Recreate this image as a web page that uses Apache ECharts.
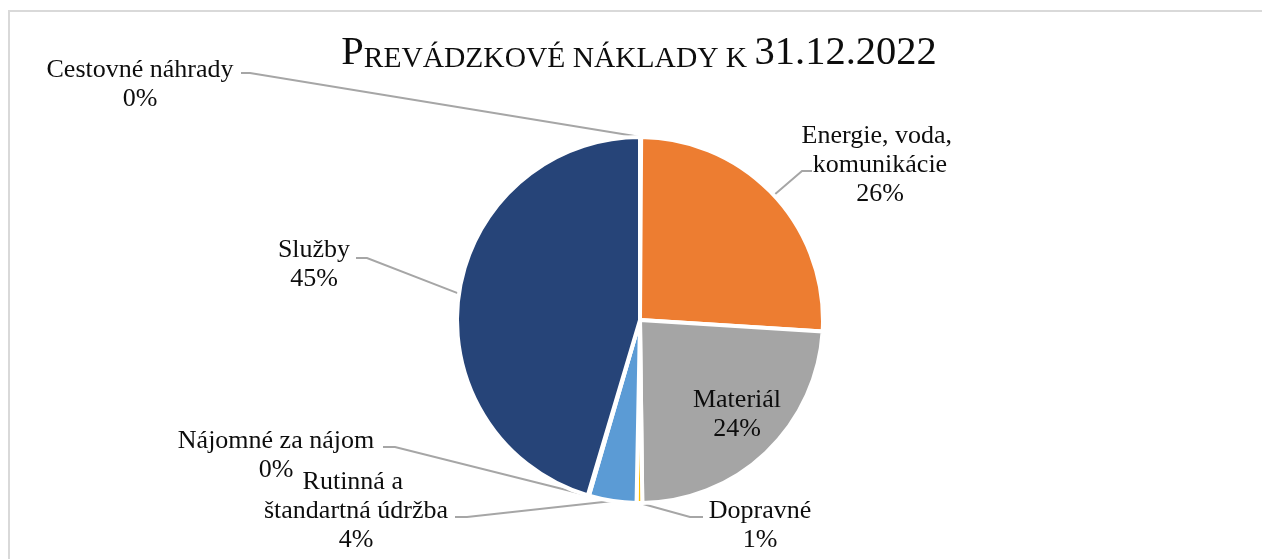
<!DOCTYPE html>
<html><head><meta charset="utf-8">
<script src="https://cdn.jsdelivr.net/npm/echarts@6/dist/echarts.min.js"></script>
<style>
html,body{margin:0;padding:0;background:#fff;overflow:hidden}
#frame{position:absolute;left:8px;top:10px;width:1400px;height:700px;border:2px solid #D9D9D9;box-sizing:border-box}
#chart{position:absolute;left:0;top:0;width:1262px;height:559px}
</style></head><body>
<div id="frame"></div><div id="chart"></div>
<script>
// ---- data ----
const categories = ['Cestovné náhrady', 'Energie, voda, komunikácie', 'Materiál', 'Dopravné', 'Rutinná a štandartná údržba', 'Nájomné za nájom', 'Služby'];
const values = [0.1, 25.9, 23.8, 0.5, 4.2, 0.1, 45.4];
const titleParts = ['P', 'REVÁDZKOVÉ NÁKLADY K ', '31.12.2022'];

// ---- styles / layout ----
const colors = ['#4472C4', '#ED7D31', '#A5A5A5', '#FFC000', '#5B9BD5', '#70AD47', '#264478'];
const FONT = "'Liberation Serif', 'Times New Roman', serif";
const TXT = '#0d0d0d';
// label centre, label width, leader line elbow & end (layout only)
const labelBoxes = [
  { c: [140, 85], w: 260, pts: [[250, 73], [241, 73]] },
  { c: [880, 165], w: 160, pts: [[802, 171], [812, 171]] },
  { c: [737, 415], w: 140, pts: null, inside: true },
  { c: [760, 526], w: 140, pts: [[690, 517], [703, 517]] },
  { c: [356, 511], w: 250, pts: [[467, 517], [455, 517]] },
  { c: [276, 456], w: 260, pts: [[395, 447], [383, 447]] },
  { c: [314, 265], w: 140, pts: [[367, 258], [356, 258]] }
];

const data = categories.map((name, i) => ({
  name: name,
  value: values[i],
  itemStyle: { color: colors[i] },
  label: Object.assign({ width: labelBoxes[i].w, overflow: 'break' },
    labelBoxes[i].inside ? { position: 'inside' } : {}),
  labelLine: { show: !labelBoxes[i].inside }
}));

const chart = echarts.init(document.getElementById('chart'), null, { renderer: 'canvas' });
chart.setOption({
  animation: false,
  title: {
    text: '{b|' + titleParts[0] + '}{s|' + titleParts[1] + '}{b|' + titleParts[2] + '}',
    left: 639, textAlign: 'center', top: 30, padding: 0,
    textStyle: {
      fontWeight: 'normal',
      rich: {
        b: { fontFamily: FONT, fontSize: 40.5, fontWeight: 'normal', lineHeight: 44, verticalAlign: 'bottom', color: TXT },
        s: { fontFamily: FONT, fontSize: 29.5, fontWeight: 'normal', lineHeight: 37, verticalAlign: 'bottom', color: TXT }
      }
    }
  },
  series: [{
    type: 'pie',
    center: [640, 320],
    radius: 183,
    startAngle: 90,
    clockwise: true,
    avoidLabelOverlap: false,
    itemStyle: { borderColor: '#fff', borderWidth: 4 },
    emphasis: { disabled: true },
    label: {
      show: true,
      position: 'outside',
      fontFamily: FONT, fontSize: 26, lineHeight: 29, color: TXT,
      align: 'center',
      formatter: p => p.name + '\n' + Math.round(p.percent) + '%'
    },
    labelLine: { show: true, smooth: false, lineStyle: { color: '#A6A6A6', width: 2 } },
    labelLayout: function (params) {
      const b = labelBoxes[params.dataIndex];
      const res = { x: b.c[0], y: b.c[1], align: 'center', verticalAlign: 'middle' };
      if (b.pts && params.labelLinePoints) {
        const p0 = params.labelLinePoints[0];
        res.labelLinePoints = [[p0[0], p0[1]], b.pts[0], b.pts[1]];
      }
      return res;
    },
    data: data
  }]
});
</script></body></html>
